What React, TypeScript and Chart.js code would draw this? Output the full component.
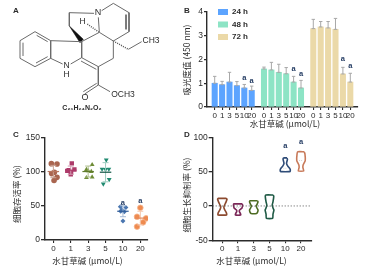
import React, { useEffect, useRef } from "react";
import { Chart, registerables } from "chart.js";

Chart.register(...registerables);

const SANS = "'Liberation Sans', Arial, sans-serif";
const CJK = "'Noto Sans CJK SC', sans-serif";
const INK = "#2b2b2b";

// ---------- Panel A: molecule (structure coordinates) ----------
const bonds = [
  [105, 95, 152, 122], [152, 122, 152, 175], [152, 175, 105, 200], [105, 200, 60, 175], [60, 175, 60, 122], [60, 122, 105, 95],
  [110, 106, 143, 125], [143, 170, 108, 189], [69, 168, 69, 128],
  [152, 122, 245, 125], [152, 175, 188, 192], [212, 192, 245, 173], [245, 125, 245, 173],
  [245, 173, 295, 200], [243, 183, 289, 208], [295, 200, 340, 175], [340, 175, 340, 123], [340, 123, 298, 97], [298, 97, 245, 125],
  [298, 97, 295, 52], [282, 40, 208, 38], [208, 38, 208, 78],
  [305, 32, 340, 10], [340, 10, 387, 38], [387, 38, 387, 95], [378, 44, 378, 88], [387, 95, 340, 123],
  [385, 148, 425, 125],
  [295, 200, 295, 255], [295, 255, 254, 282], [290, 250, 250, 275], [295, 255, 330, 275],
];
const hashedBonds = [[340, 123, 385, 148], [262, 72, 298, 97]];
const wedge = [[208, 78], [240, 128], [250, 118], [208, 78]];

// ---------- Panel B: absorbance bars ----------
const concentrationLabels = ["0", "1", "3", "5", "10", "20"];
const absorbance24h = [1.0, 0.94, 1.05, 0.9, 0.8, 0.7];
const absorbance48h = [1.6, 1.56, 1.46, 1.4, 1.05, 0.8];
const absorbance72h = [3.3, 3.37, 3.33, 3.27, 1.39, 1.05];
const errorTop24h = [1.29, 1.08, 1.46, 1.07, 0.95, 0.88];
const errorTop48h = [1.68, 1.88, 1.8, 1.66, 1.29, 1.12];
const errorTop72h = [3.69, 3.6, 3.6, 3.73, 1.67, 1.42];
const positions24h = [0, 1, 2, 3, 4, 5];
const positions48h = [6.66, 7.66, 8.66, 9.66, 10.66, 11.66];
const positions72h = [13.32, 14.32, 15.32, 16.32, 17.32, 18.32];
const sigB = [[4, 1.21], [5, 1.11], [10.66, 1.59], [11.66, 1.4], [17.32, 2.03], [18.32, 1.73]];

// ---------- Panel C: viability ----------
const viabilityX = [
  [-0.115, 0.21, 0.06, -0.1, 0.21, 0.04],
  [0.06, -0.12, 0.21, 0.0, -0.2, 0.02],
  [0.23, -0.1, 0.18, -0.1, 0.23, 0.0],
  [0.04, -0.2, 0.19, -0.13, 0.21, 0.0],
  [-0.15, 0.17, -0.06, 0.08, 0.0, -0.13],
  [0.0, -0.19, 0.33, 0.16, -0.19],
];
const viabilityY = [
  [111.5, 111, 99, 97, 91.5, 87],
  [112, 102, 103, 96, 101, 99],
  [110, 103, 100, 91, 92, 101],
  [117, 103.6, 103.6, 82, 88.6, 103],
  [48.7, 47.6, 43.8, 41.4, 27.7, 42],
  [47, 34, 31.6, 25.8, 19.5],
];
const viabilityMean = [100, 102, 100, 99, 42, 32];
const viabilitySd = [9, 6, 8, 14, 8, 10];
const sigC = [[4, 54], [5, 57]];

// ---------- Panel D: inhibition violins (value, half width) ----------
const violin0 = [[11, 0.26], [10, 0.3], [6, 0.24], [0, 0.12], [-2, 0.1], [-5, 0.14], [-10, 0.26], [-13, 0.28]];
const violin1 = [[3, 0.27], [1, 0.29], [-3, 0.25], [-6, 0.1], [-8, 0.08], [-11, 0.15], [-13, 0.17]];
const violin2 = [[7.5, 0.24], [6, 0.27], [2, 0.2], [0, 0.15], [-3, 0.2], [-6, 0.27], [-9, 0.24], [-11, 0.18]];
const violin3 = [[16, 0.24], [14, 0.27], [6, 0.22], [1, 0.17], [-4, 0.24], [-6, 0.28], [-12, 0.22], [-18, 0.2]];
const violin4 = [[70, 0.11], [68, 0.14], [62, 0.08], [58, 0.16], [54, 0.3], [51, 0.32], [50, 0.26]];
const violin5 = [[79, 0.2], [76, 0.25], [66, 0.27], [60, 0.14], [56, 0.12], [51, 0.17]];
const violins = [violin0, violin1, violin2, violin3, violin4, violin5];
const violinMedian = [-1, -2, -1, -1, 55, 66];
const sigD = [[4, 87.8], [5, 93.6]];

const groupColors = ["#A9654F", "#AD3B6A", "#6D8B35", "#1F8A70", "#4A76B0", "#EE8A4F"];
const sdColors = ["#C9A091", "#D39AB0", "#AEBE8C", "#9CCDBF", "#A3B8D4", "#F4C7AC"];
const meanColors = ["#B8765E", "#AD3B6A", "#5F7A2C", "#115544", "#2F5C98", "#E5885A"];
const pointStyles = ["circle", "rect", "triangle", "triangle", "rectRot", "circle"];
const pointRotations = [0, 0, 0, 180, 0, 0];
const violinColors = ["#8C4A2F", "#7B2757", "#4D6B22", "#1F5A45", "#2F4C78", "#C87A5A"];

type Txt = { t: string; x: number; y: number; font: string; rot?: number; color?: string; align?: CanvasTextAlign };

function marks(spec: {
  ox: number; oy: number; texts?: Txt[];
  errors?: { x: number; lo: number; hi: number; color: string; cap: number; width?: number }[];
  means?: { x: number; y: number; half: number; color: string }[];
  sig?: number[][]; legendAt?: [number, number];
}) {
  return {
    id: "marks",
    beforeDraw(chart: any) {
      if (spec.legendAt && chart.legend) {
        chart.legend.left = spec.legendAt[0];
        chart.legend.top = spec.legendAt[1];
      }
    },
    afterDatasetsDraw(chart: any) {
      const c = chart.ctx;
      const X = chart.scales.x, Y = chart.scales.y;
      c.save();
      (spec.errors || []).forEach((e) => {
        const px = X.getPixelForValue(e.x);
        c.strokeStyle = e.color;
        c.lineWidth = e.width ?? 1;
        c.beginPath();
        c.moveTo(px, Y.getPixelForValue(e.lo));
        c.lineTo(px, Y.getPixelForValue(e.hi));
        c.moveTo(px - e.cap, Y.getPixelForValue(e.hi));
        c.lineTo(px + e.cap, Y.getPixelForValue(e.hi));
        if (e.lo !== 0) {
          c.moveTo(px - e.cap, Y.getPixelForValue(e.lo));
          c.lineTo(px + e.cap, Y.getPixelForValue(e.lo));
        }
        c.stroke();
      });
      (spec.means || []).forEach((m) => {
        c.strokeStyle = m.color;
        c.lineWidth = 1.2;
        c.beginPath();
        c.moveTo(X.getPixelForValue(m.x - m.half), Y.getPixelForValue(m.y));
        c.lineTo(X.getPixelForValue(m.x + m.half), Y.getPixelForValue(m.y));
        c.stroke();
      });
      c.textBaseline = "middle";
      (spec.sig || []).forEach(([sx, sy]) => {
        c.font = `bold 7.5px ${SANS}`;
        c.fillStyle = "#243c63";
        c.textAlign = "center";
        c.fillText("a", X.getPixelForValue(sx), Y.getPixelForValue(sy));
      });
      c.restore();
    },
    afterDraw(chart: any) {
      const c = chart.ctx;
      (spec.texts || []).forEach((t) => {
        c.save();
        c.translate(t.x - spec.ox, t.y - spec.oy);
        if (t.rot) c.rotate(t.rot);
        c.font = t.font;
        c.fillStyle = t.color || INK;
        c.textAlign = t.align || "center";
        c.textBaseline = "middle";
        c.fillText(t.t, 0, 0);
        c.restore();
      });
    },
  };
}

const titleFont = `8.5px ${CJK}`;
const tickFont = { family: "'Liberation Sans', Arial, sans-serif", size: 8 };

function axes(box: { w: number; h: number; l: number; t: number; r: number; b: number },
  xMin: number, xMax: number, xTicks: number[], yMin: number, yMax: number, yStep: number, tickLen: number) {
  return {
    layout: { autoPadding: false, padding: { left: 0, top: box.t, right: box.w - box.r, bottom: 0 } },
    scales: {
      x: {
        type: "linear", min: xMin, max: xMax, offset: false,
        afterBuildTicks: (s: any) => { s.ticks = xTicks.map((v) => ({ value: v })); },
        afterFit: (s: any) => { s.height = box.h - box.b; },
        border: { color: INK, width: 1.4 },
        grid: { offset: false, drawOnChartArea: false, drawTicks: true, tickLength: 3, color: INK, lineWidth: 1.1 },
        ticks: {
          autoSkip: false, maxRotation: 0, minRotation: 0, padding: 1, color: INK, font: tickFont,
          callback: (_: any, i: number) => concentrationLabels[i % 6],
        },
      },
      y: {
        type: "linear", min: yMin, max: yMax,
        afterFit: (s: any) => { s.width = box.l; },
        border: { color: INK, width: 1.4 },
        grid: { drawOnChartArea: false, drawTicks: true, tickLength: tickLen, color: INK, lineWidth: 1.3 },
        ticks: { stepSize: yStep, padding: 1, color: INK, font: { ...tickFont, size: 8.5 } },
      },
    },
  };
}

function useChart(build: () => any) {
  const ref = useRef<HTMLCanvasElement>(null);
  useEffect(() => {
    const chart = new Chart(ref.current!, build());
    return () => chart.destroy();
  }, []);
  return ref;
}

const common = { responsive: false, animation: false, devicePixelRatio: 1 };

function flat(segments: number[][]) {
  const pts: any[] = [];
  segments.forEach((s, i) => {
    if (i) pts.push({ x: null, y: null });
    pts.push({ x: s[0], y: s[1] }, { x: s[2], y: s[3] });
  });
  return pts;
}

function PanelA() {
  const ref = useChart(() => ({
    type: "scatter",
    data: {
      datasets: [
        { data: flat(bonds), showLine: true, spanGaps: false, pointRadius: 0, borderColor: "#6a6a6a", borderWidth: 1 },
        { data: flat(hashedBonds), showLine: true, spanGaps: false, pointRadius: 0, borderColor: "#555", borderWidth: 1.5, borderDash: [1, 1.2] },
        { data: wedge.map(([x, y]) => ({ x, y })), showLine: true, pointRadius: 0, borderColor: "#111", backgroundColor: "#111", borderWidth: 0.5, fill: "shape" },
      ],
    },
    options: {
      ...common,
      layout: { autoPadding: false, padding: 0 },
      plugins: { legend: { display: false }, tooltip: { enabled: false } },
      scales: {
        x: { type: "linear", min: 0, max: 570, display: false },
        y: { type: "linear", min: 0, max: 408, reverse: true, display: false },
      },
    },
    plugins: [marks({
      ox: 0, oy: 0,
      texts: [
        { t: "A", x: 16, y: 11, font: `bold 8px ${SANS}` },
        { t: "N", x: 98, y: 13, font: `9px ${SANS}` },
        { t: "H", x: 82.5, y: 22, font: `8.5px ${SANS}` },
        { t: "CH3", x: 151, y: 41, font: `8.5px ${SANS}` },
        { t: "N", x: 66.5, y: 66, font: `8.5px ${SANS}` },
        { t: "H", x: 66.5, y: 75, font: `8.5px ${SANS}` },
        { t: "O", x: 85, y: 98, font: `9px ${SANS}` },
        { t: "OCH3", x: 123, y: 95, font: `8.5px ${SANS}` },
        { t: "C₂₁H₂₄N₂O₂", x: 82, y: 108, font: `bold 7px ${SANS}` },
      ],
    }) as any],
  }));
  return <canvas ref={ref} width={190} height={136} style={{ position: "absolute", left: 0, top: 0 }} />;
}

function barErrors(xs: number[], lo: number[], hi: number[]) {
  return xs.map((x, i) => ({ x, lo: lo[i], hi: hi[i], color: "#a8a8a8", cap: 1.7, width: 1 }));
}
function xy(xs: number[], ys: number[]) {
  return xs.map((x, i) => ({ x, y: ys[i] }));
}

function PanelB() {
  const ox = 178;
  const box = { w: 204, h: 130, l: 207 - ox, t: 12, r: 358 - ox, b: 107 };
  const ref = useChart(() => ({
    type: "bar",
    data: {
      datasets: [
        { label: "24 h", data: xy(positions24h, absorbance24h), backgroundColor: "#5CA4FF", barThickness: 5.4, grouped: false },
        { label: "48 h", data: xy(positions48h, absorbance48h), backgroundColor: "#8DE4C5", barThickness: 5.4, grouped: false },
        { label: "72 h", data: xy(positions72h, absorbance72h), backgroundColor: "#EBD9A8", barThickness: 5.4, grouped: false },
      ],
    },
    options: {
      ...common,
      ...axes(box, -1.04, 19.36, [...positions24h, ...positions48h, ...positions72h], 0, 4, 1, 3),
      plugins: {
        tooltip: { enabled: false },
        legend: {
          position: "chartArea", align: "start",
          labels: { boxWidth: 10, boxHeight: 6, padding: 4.5, color: INK, font: { family: SANS, size: 8, weight: "bold" } },
        },
      },
    },
    plugins: [marks({
      ox, oy: 0,
      legendAt: [218 - ox - 4.5, 3.5],
      errors: [
        ...barErrors(positions24h, absorbance24h, errorTop24h),
        ...barErrors(positions48h, absorbance48h, errorTop48h),
        ...barErrors(positions72h, absorbance72h, errorTop72h),
      ],
      sig: sigB,
      texts: [
        { t: "B", x: 187, y: 11, font: `bold 8px ${SANS}` },
        { t: "吸光度值 (450 nm)", x: 187, y: 60, font: titleFont, rot: -Math.PI / 2 },
        { t: "水甘草碱 (μmol/L)", x: 285, y: 123.5, font: titleFont },
      ],
    }) as any],
  }));
  return <canvas ref={ref} width={204} height={130} style={{ position: "absolute", left: ox, top: 0 }} />;
}

function PanelC() {
  const oy = 130;
  const box = { w: 190, h: 142, l: 45, t: 137.3 - oy, r: 148, b: 240 - oy };
  const ref = useChart(() => ({
    type: "scatter",
    data: {
      datasets: viabilityY.map((ys, g) => ({
        data: ys.map((y, i) => ({ x: g + viabilityX[g][i], y })),
        pointStyle: pointStyles[g],
        rotation: pointRotations[g],
        radius: g === 1 ? 3.1 : g === 4 ? 2.5 : 2.8,
        backgroundColor: groupColors[g],
        borderColor: g === 5 ? "#F6B48C" : groupColors[g],
        borderWidth: g === 5 ? 0.8 : 0,
      })),
    },
    options: {
      ...common,
      ...axes(box, -0.48, 5.44, [0, 1, 2, 3, 4, 5], 0, 150, 50, 4),
      plugins: { legend: { display: false }, tooltip: { enabled: false } },
    },
    plugins: [marks({
      ox: 0, oy,
      errors: viabilityMean.map((m, g) => ({ x: g, lo: m - viabilitySd[g], hi: m + viabilitySd[g], color: sdColors[g], cap: 3 })),
      means: viabilityMean.map((m, g) => ({ x: g, y: m, half: 0.33, color: meanColors[g] })),
      sig: sigC,
      texts: [
        { t: "C", x: 16, y: 135, font: `bold 8px ${SANS}` },
        { t: "细胞存活率 (%)", x: 17, y: 194, font: titleFont, rot: -Math.PI / 2 },
        { t: "水甘草碱 (μmol/L)", x: 87.5, y: 261, font: titleFont },
      ],
    }) as any],
  }));
  return <canvas ref={ref} width={190} height={142} style={{ position: "absolute", left: 0, top: oy }} />;
}

function outline(center: number, profile: number[][]) {
  const right = profile.map(([v, w]) => ({ x: center + w, y: v }));
  const left = [...profile].reverse().map(([v, w]) => ({ x: center - w, y: v }));
  return [...right, ...left, right[0]];
}

function PanelD() {
  const ox = 178, oy = 130;
  const box = { w: 204, h: 142, l: 212.7 - ox, t: 137.3 - oy, r: 311.7 - ox, b: 240.3 - oy };
  const xMin = -0.61, xMax = 5.68;
  const ref = useChart(() => ({
    type: "scatter",
    data: {
      datasets: [
        {
          data: [{ x: xMin, y: 0 }, { x: xMax, y: 0 }], showLine: true, pointRadius: 0,
          borderColor: "#555", borderWidth: 1, borderDash: [1, 2],
        },
        ...violins.map((p, g) => ({
          data: outline(g, p), showLine: true, pointRadius: 0, tension: 0.15,
          borderColor: violinColors[g], borderWidth: 1.6, borderJoinStyle: "round",
        })),
        ...violinMedian.map((m, g) => ({
          data: [{ x: g - 0.12, y: m }, { x: g + 0.12, y: m }], showLine: true, pointRadius: 0,
          borderColor: "#c4c4c4", borderWidth: 0.7, borderDash: [1, 1],
        })),
      ],
    },
    options: {
      ...common,
      ...axes(box, xMin, xMax, [0, 1, 2, 3, 4, 5], -50, 100, 50, 4),
      plugins: { legend: { display: false }, tooltip: { enabled: false } },
    },
    plugins: [marks({
      ox, oy,
      sig: sigD,
      texts: [
        { t: "D", x: 187, y: 135, font: `bold 8px ${SANS}` },
        { t: "细胞生长抑制率 (%)", x: 187, y: 195, font: titleFont, rot: -Math.PI / 2 },
        { t: "水甘草碱 (μmol/L)", x: 251.5, y: 261, font: titleFont },
      ],
    }) as any],
  }));
  return <canvas ref={ref} width={204} height={142} style={{ position: "absolute", left: ox, top: oy }} />;
}

export default function App() {
  return (
    <div style={{ position: "fixed", left: 0, top: 0, width: 382, height: 272, background: "#fff", overflow: "hidden", filter: "blur(0.35px)" }}>
      <PanelA />
      <PanelB />
      <PanelC />
      <PanelD />
    </div>
  );
}
